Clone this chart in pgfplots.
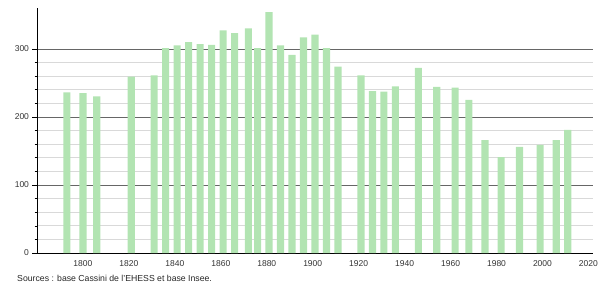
\documentclass[border=0pt]{standalone}
\usepackage{pgfplots}
\pgfplotsset{compat=1.18}
\usepackage{fontspec}
\setmainfont{Liberation Sans}
\definecolor{barg}{RGB}{178,228,178}
\begin{document}
\begin{tikzpicture}[x=1pt,y=1pt]
\useasboundingbox (0,0) rectangle (600,287);
\begin{axis}[
  at={(37pt,34pt)}, anchor=south west,
  scale only axis, width=556pt, height=245pt,
  xmin=1780, xmax=2022, ymin=0, ymax=360,
  axis lines=left, axis line style={-,black, line width=0.6pt},
  xtick={1800,1820,...,2020},
  x tick label style={/pgf/number format/1000 sep={}},
  ytick={0,100,200,300},
  minor y tick num=4,
  ymajorgrids, yminorgrids,
  major grid style={gray!80!black, line width=0.6pt},
  minor grid style={black!15, line width=0.6pt},
  xtick style={draw=none},
  ytick style={black, line width=0.5pt},
  tick align=outside,
  major tick length=4.5pt, minor tick length=2.3pt,
  /pgf/number format/assume math mode=true,
  tick label style={font=\fontsize{8.5}{10}\selectfont, text=black!80},
  ybar, bar width=3.1, bar shift=0pt,
  clip=false,
]
\addplot[fill=barg, draw=none] coordinates {
(1793,236) (1800,235) (1806,230) (1821,259) (1831,261) (1836,301) (1841,305)
(1846,310) (1851,307) (1856,306) (1861,327) (1866,323) (1872,330) (1876,301)
(1881,354) (1886,305) (1891,291) (1896,317) (1901,321) (1906,301) (1911,274)
(1921,261) (1926,238) (1931,237) (1936,245) (1946,272) (1954,244) (1962,243)
(1968,225) (1975,166) (1982,141) (1990,156) (1999,159) (2006,166) (2011,181)
};
\end{axis}
\node[anchor=west, font=\fontsize{8.7}{10}\selectfont, text=black!85, inner sep=0pt] at (17,8.5) {Sources : base Cassini de l'EHESS et base Insee.};
\end{tikzpicture}
\end{document}
